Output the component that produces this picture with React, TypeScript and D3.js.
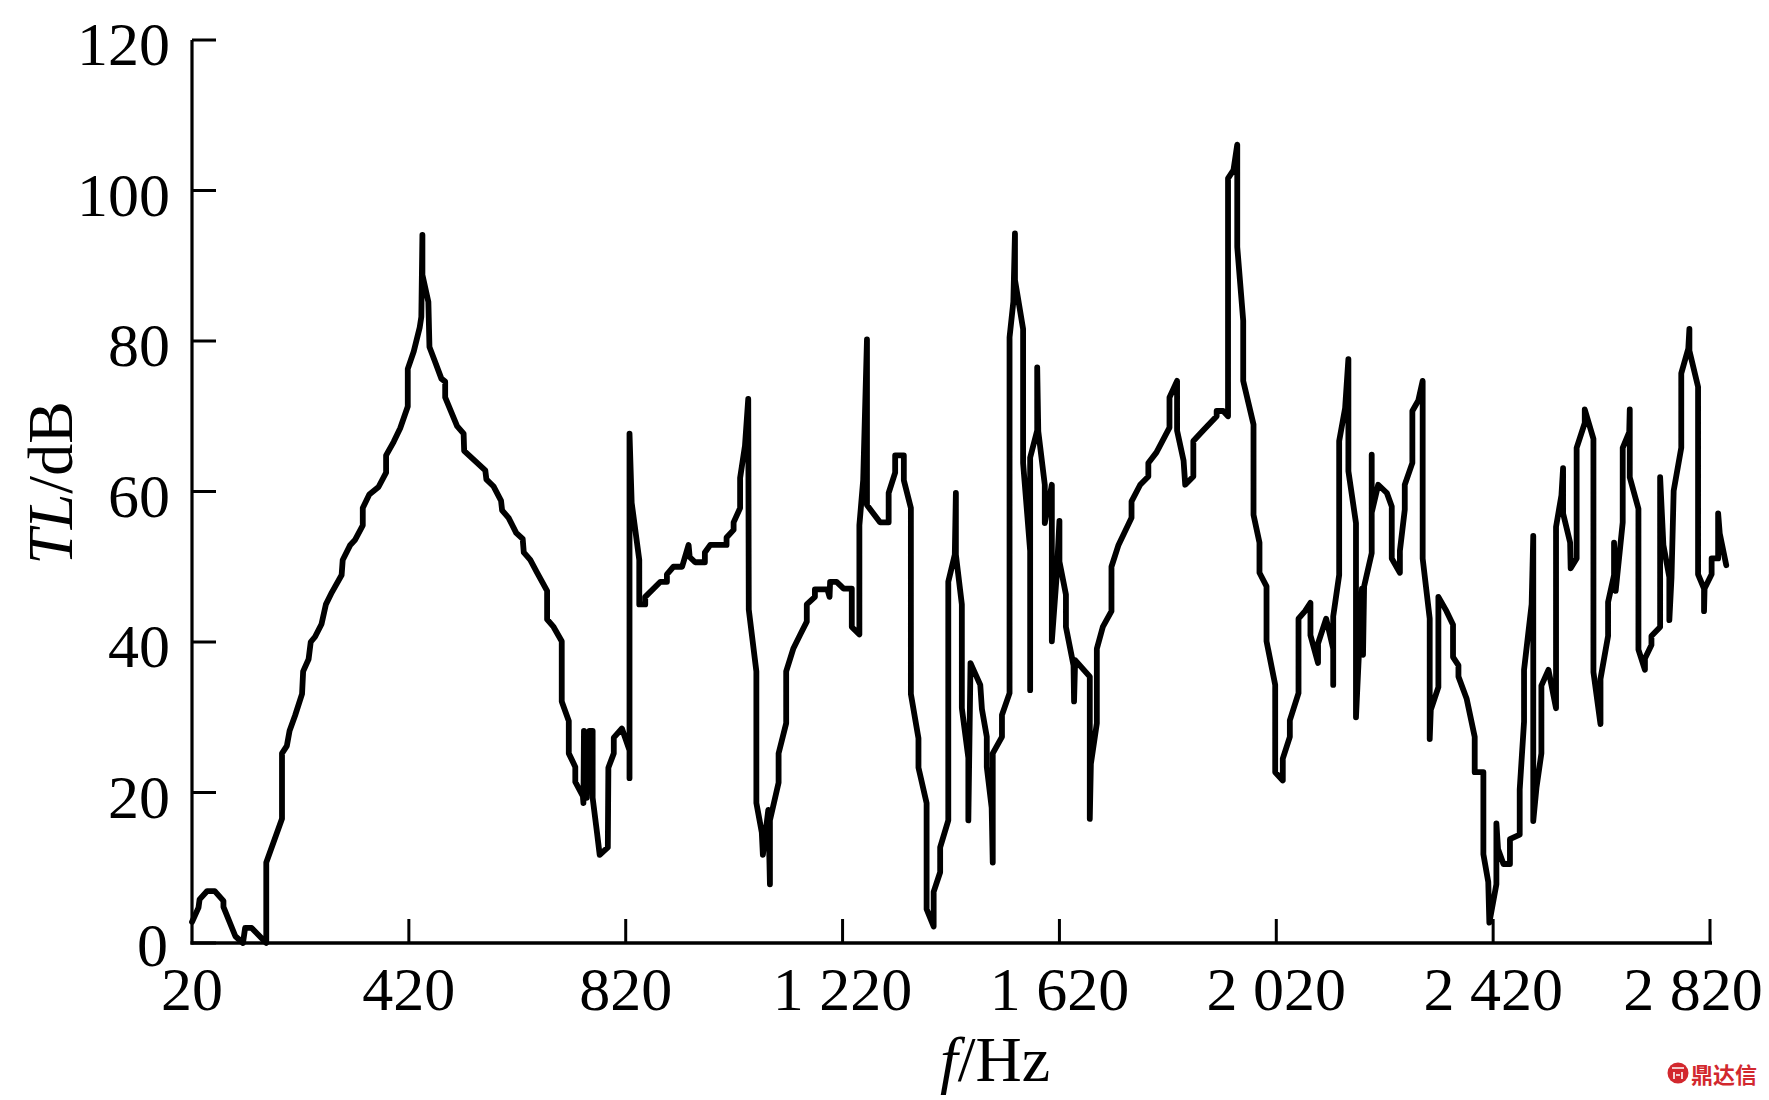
import React from 'react';
import * as d3 from 'd3';

// Frequency (Hz) of each vertex of the TL curve
const freq: number[] = [
  20, 32, 34, 48, 62, 78, 78, 100, 114, 118, 130, 157, 157, 186, 186, 195, 200, 210, 223, 225,
  235, 239, 247, 259, 267, 278, 296, 298, 312, 321, 335, 335, 347, 364, 378, 378, 392, 404, 418, 418,
  429, 440, 443, 445, 445, 456, 458, 468, 480, 487, 487, 509, 521, 522, 561, 563, 576, 590, 592, 604,
  618, 630, 632, 644, 656, 675, 675, 687, 702, 702, 715, 715, 727, 727, 741, 742, 743, 748, 753, 759,
  759, 767, 772, 787, 788, 798, 798, 813, 827, 827, 827, 831, 845, 845, 856, 856, 884, 896, 896, 908,
  924, 936, 938, 948, 966, 966, 976, 1006, 1006, 1019, 1019, 1031, 1031, 1040, 1046, 1047, 1061, 1061, 1071, 1073,
  1083, 1086, 1086, 1102, 1102, 1116, 1116, 1129, 1142, 1154, 1154, 1169, 1169, 1192, 1196, 1197, 1209, 1222, 1237, 1237,
  1251, 1251, 1258, 1265, 1265, 1289, 1305, 1305, 1317, 1317, 1333, 1333, 1346, 1346, 1360, 1360, 1375, 1375, 1388, 1388,
  1400, 1400, 1415, 1415, 1427, 1429, 1429, 1440, 1440, 1452, 1452, 1456, 1474, 1477, 1486, 1486, 1495, 1497, 1497, 1514,
  1514, 1528, 1528, 1535, 1538, 1538, 1553, 1553, 1566, 1566, 1566, 1579, 1579, 1581, 1593, 1593, 1606, 1606, 1615, 1620,
  1620, 1632, 1632, 1646, 1647, 1649, 1676, 1676, 1678, 1689, 1689, 1700, 1716, 1716, 1729, 1753, 1753, 1769, 1784, 1784,
  1799, 1823, 1823, 1837, 1837, 1849, 1852, 1867, 1867, 1885, 1910, 1910, 1922, 1931, 1931, 1941, 1948, 1948, 1959, 1959,
  1978, 1978, 1989, 1989, 2002, 2002, 2018, 2018, 2032, 2032, 2045, 2045, 2061, 2061, 2073, 2083, 2083, 2097, 2097, 2112,
  2125, 2125, 2125, 2136, 2136, 2147, 2153, 2153, 2167, 2167, 2178, 2180, 2182, 2196, 2196, 2196, 2208, 2224, 2233, 2233,
  2248, 2248, 2257, 2257, 2271, 2271, 2282, 2290, 2290, 2303, 2303, 2305, 2319, 2319, 2334, 2346, 2346, 2356, 2356, 2371,
  2386, 2386, 2402, 2402, 2411, 2413, 2426, 2426, 2429, 2439, 2451, 2451, 2469, 2469, 2477, 2477, 2491, 2494, 2494, 2500,
  2509, 2509, 2522, 2536, 2536, 2546, 2549, 2549, 2562, 2563, 2574, 2574, 2589, 2589, 2605, 2605, 2618, 2618, 2632, 2632,
  2643, 2643, 2646, 2659, 2659, 2671, 2672, 2672, 2688, 2688, 2700, 2700, 2712, 2712, 2728, 2728, 2734, 2745, 2745, 2749,
  2753, 2767, 2767, 2780, 2782, 2782, 2798, 2798, 2809, 2809, 2810, 2823, 2823, 2835, 2835, 2838, 2850,
];

// Transmission loss (dB) at each vertex
const tl: number[] = [
  2.8, 4.7, 5.8, 6.9, 6.9, 5.6, 4.8, 0.9, 0, 2.0, 2.0, 0, 10.7, 16.5, 25.2, 26.2, 28.2, 30.2, 33.1, 36.1,
  37.7, 40.0, 40.7, 42.4, 45.0, 46.6, 48.9, 50.9, 52.9, 53.6, 55.5, 57.8, 59.6, 60.6, 62.5, 64.8, 66.6, 68.4, 71.3, 76.3,
  78.6, 81.8, 83.2, 94.1, 88.8, 85.2, 79.2, 77.3, 75.0, 74.6, 72.5, 68.7, 67.7, 65.4, 62.8, 61.6, 60.7, 58.8, 57.5, 56.5,
  54.5, 53.7, 51.9, 50.9, 49.3, 46.8, 43.0, 42.0, 40.1, 32.1, 29.5, 25.2, 23.4, 21.4, 19.5, 18.6, 28.2, 19.3, 28.2, 28.2,
  19.3, 14.7, 11.7, 12.7, 23.3, 25.2, 27.3, 28.5, 25.6, 21.9, 67.7, 58.5, 50.9, 45.0, 45.0, 46.0, 48.0, 48.0, 49.0, 50.0,
  50.0, 52.9, 51.3, 50.6, 50.6, 51.9, 52.9, 52.9, 53.9, 54.9, 55.9, 57.8, 61.8, 66.1, 72.3, 44.3, 36.1, 18.6, 14.7, 11.7,
  17.7, 7.8, 16.3, 21.3, 25.2, 29.2, 36.1, 39.1, 41.0, 42.7, 45.0, 46.0, 47.0, 47.0, 46.0, 48.0, 48.0, 47.1, 47.1, 42.0,
  41.0, 55.5, 61.5, 80.2, 58.2, 55.9, 55.9, 59.8, 62.5, 64.8, 64.8, 61.5, 57.8, 33.1, 27.2, 23.3, 18.6, 4.5, 2.2, 6.8,
  9.4, 12.7, 16.3, 48.0, 51.6, 59.8, 51.6, 45.0, 31.2, 24.6, 16.3, 37.2, 34.3, 31.1, 27.4, 23.4, 18.0, 10.7, 25.2, 27.4,
  30.3, 33.2, 80.5, 85.2, 94.3, 88.1, 81.6, 63.8, 52.1, 33.6, 64.5, 68.1, 76.5, 68.0, 60.9, 55.8, 60.9, 40.1, 48.9, 56.1,
  50.7, 46.3, 42.0, 36.9, 32.1, 37.6, 35.4, 16.5, 23.8, 29.2, 39.1, 42.0, 44.1, 50.0, 52.9, 56.5, 58.7, 60.9, 62.0, 63.8,
  65.2, 68.5, 72.5, 74.7, 68.1, 64.1, 60.9, 62.0, 66.7, 68.1, 70.0, 70.7, 70.7, 70.0, 101.6, 102.7, 106.1, 92.5, 82.7, 74.7,
  68.9, 56.9, 53.2, 49.2, 47.4, 40.1, 34.3, 22.7, 21.6, 24.5, 27.4, 29.6, 33.2, 43.1, 44.1, 45.2, 40.9, 37.2, 39.8, 43.1,
  39.1, 34.3, 43.4, 48.9, 66.7, 71.1, 77.6, 62.7, 55.8, 30.0, 47.1, 38.3, 47.4, 51.8, 64.9, 57.2, 60.9, 59.8, 58.0, 51.1,
  49.2, 52.1, 57.6, 60.9, 63.8, 70.7, 72.1, 74.7, 51.1, 43.1, 27.1, 31.0, 34.0, 46.0, 44.1, 42.3, 38.0, 36.9, 35.4, 32.5,
  27.4, 22.7, 22.7, 11.8, 8.1, 2.7, 7.8, 15.9, 12.5, 10.5, 10.5, 13.8, 14.4, 20.4, 29.4, 36.3, 45.0, 54.1, 16.2, 20.7,
  25.2, 34.2, 36.3, 31.2, 55.3, 59.5, 63.1, 57.1, 53.2, 49.8, 51.1, 65.8, 69.1, 70.9, 67.0, 36.0, 29.1, 35.1, 40.8, 45.3,
  48.9, 53.2, 46.8, 55.9, 65.8, 67.9, 70.9, 61.9, 57.7, 39.0, 36.3, 37.8, 39.6, 40.8, 42.0, 61.9, 52.9, 48.6, 42.9, 48.6,
  60.1, 65.8, 75.7, 79.0, 81.6, 78.7, 73.9, 49.0, 47.1, 44.1, 47.1, 49.0, 51.1, 51.1, 57.1, 54.4, 50.2,
];

const xTicks: number[] = [20, 420, 820, 1220, 1620, 2020, 2420, 2820];
const xTickLabels: string[] = ['20', '420', '820', '1 220', '1 620', '2 020', '2 420', '2 820'];
const yTicks: number[] = [0, 20, 40, 60, 80, 100, 120];
const yTickLabels: string[] = ['0', '20', '40', '60', '80', '100', '120'];

const FONT = "'Liberation Serif', 'Times New Roman', serif";

export default function App() {
  const W = 1769;
  const H = 1100;
  const x = d3.scaleLinear().domain([20, 2820]).range([192, 1710]);
  const y = d3.scaleLinear().domain([0, 120]).range([943, 40]);

  const pts: [number, number][] = freq.map((f, i) => [f, tl[i]]);
  const line = d3
    .line<[number, number]>()
    .x((d) => x(d[0]))
    .y((d) => y(d[1]));

  const tickLen = 24;
  const x0 = x(20);
  const y0 = y(0);

  return (
    <div style={{ position: 'absolute', left: 0, top: 0, width: W, height: H, background: '#fff' }}>
      <svg width={W} height={H} viewBox={`0 0 ${W} ${H}`} style={{ display: 'block' }}>
        <rect x={0} y={0} width={W} height={H} fill="#fff" />
        {/* axes */}
        <line x1={x0} y1={y0 + 1.5} x2={x0} y2={y(120)} stroke="#000" strokeWidth={3.2} />
        <line x1={x0 - 1.5} y1={y0} x2={x(2820) + 2} y2={y0} stroke="#000" strokeWidth={3.4} />
        {yTicks.map((t, i) => (
          <g key={'y' + t}>
            <line x1={x0} x2={x0 + tickLen} y1={y(t)} y2={y(t)} stroke="#000" strokeWidth={3} />
            <text
              x={i === 0 ? 168 : 170}
              y={y(t) + (i === 0 ? 23 : 25)}
              textAnchor="end"
              fontFamily={FONT}
              fontSize={62}
              fill="#000"
            >
              {yTickLabels[i]}
            </text>
          </g>
        ))}
        {xTicks.map((t, i) => (
          <g key={'x' + t}>
            {i > 0 && (
              <line x1={x(t)} x2={x(t)} y1={y0} y2={y0 - tickLen} stroke="#000" strokeWidth={3} />
            )}
            <text
              x={x(t) + (i === xTicks.length - 1 ? -17 : 0)}
              y={1010}
              textAnchor="middle"
              fontFamily={FONT}
              fontSize={62}
              fill="#000"
            >
              {xTickLabels[i]}
            </text>
          </g>
        ))}
        {/* data line */}
        <path
          d={line(pts) || ''}
          fill="none"
          stroke="#000"
          strokeWidth={5.8}
          strokeLinejoin="round"
          strokeLinecap="round"
        />
        {/* axis titles */}
        <text x={995} y={1081} textAnchor="middle" fontFamily={FONT} fontSize={64} fill="#000">
          <tspan fontStyle="italic">f</tspan>
          <tspan>/Hz</tspan>
        </text>
        <text
          transform={`translate(72, 483) rotate(-90)`}
          textAnchor="middle"
          fontFamily={FONT}
          fontSize={64}
          fill="#000"
        >
          <tspan fontStyle="italic">TL</tspan>
          <tspan>/dB</tspan>
        </text>
        {/* watermark */}
        <g>
          <circle cx={1678} cy={1073} r={10.5} fill="#d2282e" />
          <path d="M1672,1068 L1684,1068 M1674,1072 L1674,1079 M1682,1072 L1682,1079 M1676,1075 L1680,1075" stroke="#fff" strokeWidth={1.6} fill="none" />
          <text
            x={1691}
            y={1083}
            fontFamily="'Noto Sans CJK SC', sans-serif"
            fontWeight="bold"
            fontSize={22}
            fill="#d2282e"
          >
            鼎达信
          </text>
        </g>
      </svg>
    </div>
  );
}
